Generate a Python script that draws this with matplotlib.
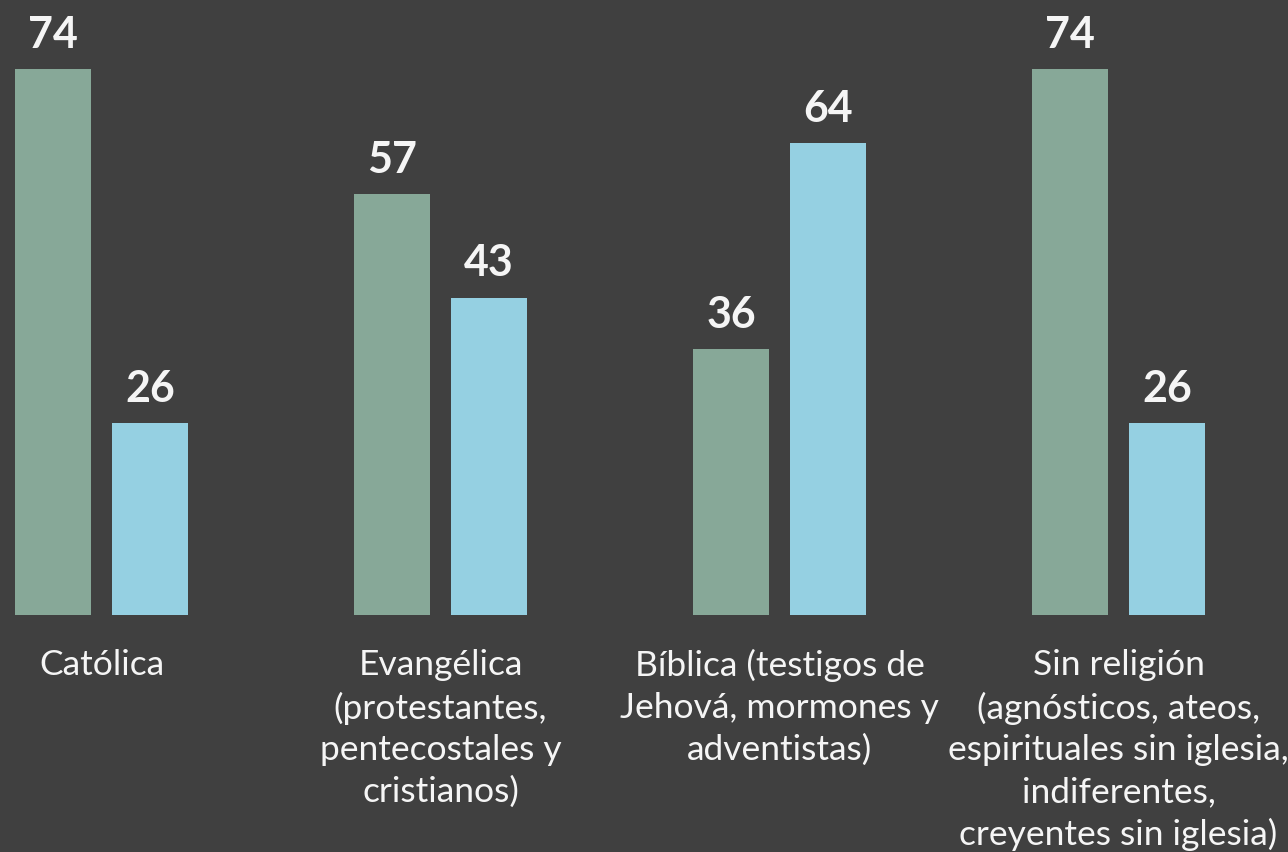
import matplotlib
matplotlib.use("Agg")
import matplotlib.pyplot as plt
import numpy as np

categories = ["Católica",
              "Evangélica\n(protestantes,\npentecostales y\ncristianos)",
              "Bíblica (testigos de\nJehová, mormones y\nadventistas)",
              "Sin religión\n(agnósticos, ateos,\nespirituales sin iglesia,\nindiferentes,\ncreyentes sin iglesia)"]
serie_a = [74, 57, 36, 74]
serie_b = [26, 43, 64, 26]

BG = "#404040"
GREEN = "#87A898"
BLUE = "#95D0E2"
TXT = "#F5F5F5"

W, H = 1288, 853
fig = plt.figure(figsize=(W/100, H/100), dpi=100, facecolor=BG)
bottom_px = 616
ax = fig.add_axes([0, 1 - bottom_px/H, 1, bottom_px/H])
ax.set_facecolor(BG)

px_per_unit = 546/74
ax.set_ylim(0, bottom_px/px_per_unit)
group_px = 339
first_center = 101.5
ax.set_xlim((0 - first_center)/group_px, (W - first_center)/group_px)

x = np.arange(len(categories))
bw = 76/group_px
off = 48.5/group_px
b1 = ax.bar(x - off, serie_a, width=bw, color=GREEN)
b2 = ax.bar(x + off, serie_b, width=bw, color=BLUE)

for bars, vals in ((b1, serie_a), (b2, serie_b)):
    for r, v in zip(bars, vals):
        ax.annotate(f"{v}", (r.get_x() + r.get_width()/2, v), xytext=(0, 11),
                    textcoords="offset points", ha="center", va="bottom",
                    color=TXT, fontsize=31, fontweight="bold", family="Lato")

for xi, lab in zip(x, categories):
    ax.annotate(lab, (xi, 0), xytext=(0, -24), textcoords="offset points",
                ha="center", va="top", color=TXT, fontsize=25.5, family="Lato",
                linespacing=1.37, annotation_clip=False)

ax.axis("off")
fig.savefig("out.png", dpi=100, facecolor=BG)
